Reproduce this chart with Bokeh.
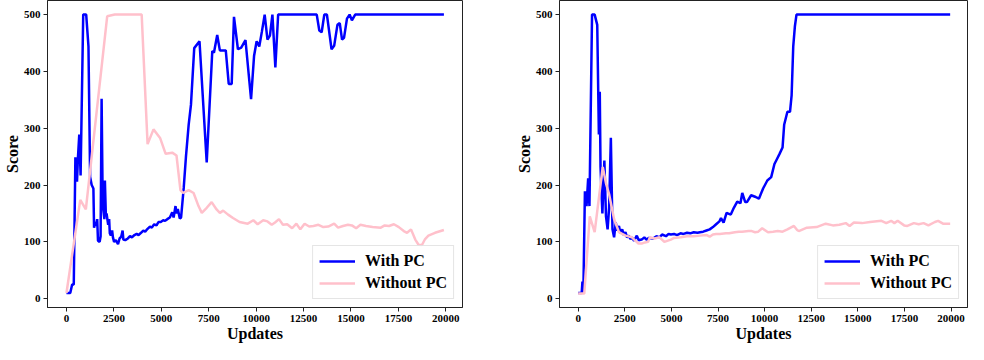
from bokeh.plotting import figure
from bokeh.layouts import row
from bokeh.models import Range1d, FixedTicker, Legend, LegendItem
from bokeh.embed import file_html
from bokeh.resources import INLINE

# ---------------- data ----------------
x_ticks = [0, 2500, 5000, 7500, 10000, 12500, 15000, 17500, 20000]
y_ticks = [0, 100, 200, 300, 400, 500]
series_labels = ["With PC", "Without PC"]

left_with_x = [0, 200, 300, 385, 470, 555, 606, 675, 745, 883, 1040, 1160, 1247, 1330, 1420, 1455, 1506, 1560,
               1620, 1662, 1749, 1800, 1853, 1900, 1940, 2000, 2026, 2078, 2114, 2200, 2250, 2286, 2338, 2407,
               2450, 2511, 2600, 2719, 2800, 2857, 2893, 2960, 3000, 3100, 3238, 3350, 3450, 3584, 3700, 3800,
               3931, 4050, 4150, 4277, 4400, 4500, 4623, 4750, 4850, 4970, 5100, 5200, 5316, 5450, 5576, 5650,
               5749, 5800, 5870, 5974, 6043, 6182, 6300, 6442, 6563, 6736, 7014, 7394, 7688, 7775, 7948, 8087,
               8399, 8555, 8711, 8832, 9040, 9213, 9438, 9732, 9890, 10026, 10165, 10303, 10450, 10598, 10727,
               10858, 11013, 11160, 13195, 13330, 13455, 13594, 13732, 13975, 14113, 14286, 14408, 14529, 14633,
               14789, 14927, 15049, 15222, 19900]
left_with_y = [10, 10, 25, 25, 249, 206, 249, 289, 217, 500, 500, 444, 214, 200, 194, 125, 135, 128,
               140, 102, 100, 110, 352, 200, 157, 140, 208, 145, 150, 130, 140, 115, 111, 120,
               108, 100, 103, 96, 106, 108, 110, 120, 104, 103, 106, 110, 108, 112, 114, 112,
               116, 120, 118, 123, 127, 125, 131, 129, 135, 135, 138, 137, 140, 143, 152, 143,
               163, 150, 158, 141, 143, 195, 250, 306, 341, 441, 453, 240, 436, 433, 464, 437,
               437, 378, 378, 496, 439, 442, 455, 351, 427, 453, 444, 470, 500, 456, 463,
               500, 407, 500, 500, 472, 469, 500, 500, 439, 445, 482, 485, 456, 459,
               493, 500, 490, 500, 500]

left_without_x = [0, 727, 1022, 2147, 2546, 3965, 4277, 4589, 4935, 5229, 5576, 5801, 6009, 6147, 6442, 6702,
                  6962, 7135, 7395, 7654, 7914, 8087, 8260, 8520, 8780, 9126, 9558, 9853, 10078, 10373, 10597,
                  10823, 10996, 11204, 11412, 11637, 11897, 12122, 12330, 12555, 12797, 13022, 13282, 13542,
                  13801, 14113, 14321, 14580, 14840, 15049, 15274, 15498, 15793, 16139, 16572, 16779, 17005,
                  17264, 17524, 17784, 17957, 18165, 18390, 18563, 18736, 18909, 19082, 19429, 19900]
left_without_y = [10, 174, 157, 497, 500, 500, 272, 298, 283, 255, 257, 252, 191, 186, 191, 186,
                  163, 151, 160, 170, 157, 151, 155, 148, 142, 135, 132, 138, 131, 138, 136,
                  130, 134, 140, 130, 131, 124, 132, 122, 132, 127, 128, 130, 126,
                  127, 132, 125, 128, 130, 129, 124, 130, 128, 126, 125, 129, 128,
                  131, 126, 119, 116, 122, 104, 95, 94, 105, 111, 116, 121]

right_with_x = [0, 190, 230, 280, 363, 450, 537, 606, 745, 885, 1024, 1111, 1160, 1200, 1300, 1406, 1493,
                1580, 1660, 1754, 1841, 1928, 2015, 2100, 2189, 2270, 2363, 2450, 2537, 2620, 2711, 2800,
                2885, 3000, 3146, 3250, 3407, 3550, 3668, 3800, 4015, 4200, 4363, 4500, 4711, 4850, 4972,
                5143, 5300, 5490, 5650, 5838, 6012, 6200, 6400, 6533, 6707, 6880, 7055, 7228, 7400, 7575,
                7660, 7800, 7959, 8185, 8350, 8532, 8705, 8800, 8960, 9052, 9277, 9521, 9694, 9919, 10145,
                10353, 10527, 10650, 10788, 10961, 11048, 11222, 11361, 11448, 11535, 11622, 11709, 19950]
right_with_y = [10, 10, 30, 12, 189, 163, 212, 163, 500, 500, 482, 289, 364, 232, 150, 243, 145,
                122, 160, 283, 122, 108, 134, 120, 128, 115, 122, 112, 117, 108, 111, 105,
                108, 102, 111, 103, 104, 108, 104, 107, 106, 110, 108, 113, 110, 114, 113,
                114, 112, 115, 114, 116, 115, 117, 116, 117, 118, 120, 122, 126, 131, 136,
                142, 134, 151, 148, 160, 171, 168, 186, 170, 170, 182, 179, 176, 194, 208,
                214, 237, 245, 254, 266, 306, 329, 329, 358, 444, 479, 500, 500]

right_without_x = [0, 328, 624, 885, 1319, 1493, 1667, 1928, 2189, 2362, 2537, 2883, 3233, 3405, 3581, 3753,
                   3842, 4100, 4363, 4622, 4972, 5143, 5500, 5838, 6200, 6533, 6900, 7055, 7228, 7400, 7600,
                   7923, 8098, 8400, 8618, 8792, 9140, 9312, 9487, 9660, 9869, 10182, 10450, 10703, 10961,
                   11224, 11572, 11744, 11833, 12267, 12789, 13276, 13658, 14005, 14353, 14561, 14787, 15222,
                   15656, 16264, 16524, 16785, 16959, 17133, 17481, 17655, 18002, 18263, 18524, 18784, 19132,
                   19305, 19566, 19950]
right_without_y = [9, 9, 145, 117, 232, 203, 183, 140, 117, 114, 111, 108, 97, 97, 99, 100,
                   108, 106, 108, 100, 104, 107, 108, 110, 110, 111, 112, 109, 113, 114, 114,
                   115, 115, 117, 118, 118, 119, 119, 117, 118, 124, 117, 118, 119, 118,
                   122, 128, 121, 119, 125, 126, 132, 129, 130, 133, 128, 134, 133,
                   135, 137, 133, 137, 133, 137, 129, 128, 133, 131, 133, 129, 135,
                   137, 132, 132]

# ---------------- styling ----------------
FONT = "Liberation Serif"
BLUE = "#0000ff"
PINK = "#ffc0cb"


def make_panel(wx, wy, nx, ny, width, border_left, border_right):
    p = figure(width=width, height=344, output_backend="svg", toolbar_location=None,
               x_range=Range1d(-1000, 20880), y_range=Range1d(-15.5, 524.8),
               min_border_left=border_left, min_border_right=border_right,
               min_border_top=0, min_border_bottom=20)
    p.background_fill_color = "white"
    p.border_fill_color = "white"
    p.outline_line_color = "#222222"
    p.outline_line_width = 1
    p.xgrid.grid_line_color = None
    p.ygrid.grid_line_color = None

    r1 = p.line(wx, wy, line_color=BLUE, line_width=2.5)
    r2 = p.line(nx, ny, line_color=PINK, line_width=2.5)

    p.xaxis.ticker = FixedTicker(ticks=x_ticks)
    p.yaxis.ticker = FixedTicker(ticks=y_ticks)
    for ax in (p.xaxis[0], p.yaxis[0]):
        ax.minor_tick_line_color = None
        ax.major_tick_in = 0
        ax.major_tick_out = 4
        ax.major_tick_line_color = "#222222"
        ax.axis_line_color = "#222222"
        ax.major_label_text_font = FONT
        ax.major_label_text_font_style = "bold"
        ax.major_label_text_font_size = "11px"
        ax.major_label_text_color = "black"
        ax.major_label_text_line_height = 0.9
        ax.axis_label_text_font = FONT
        ax.axis_label_text_font_style = "bold"
        ax.axis_label_text_font_size = "16px"
        ax.axis_label_text_color = "black"
        ax.axis_label_text_line_height = 0.9
        ax.major_label_standoff = 3
        ax.axis_label_standoff = 0
    p.xaxis.axis_label = "Updates"
    p.yaxis.axis_label = "Score"

    legend = Legend(items=[LegendItem(label=series_labels[0], renderers=[r1]),
                           LegendItem(label=series_labels[1], renderers=[r2])],
                    location="bottom_right")
    legend.margin = 8
    legend.padding = 6
    legend.spacing = 4
    legend.glyph_width = 36
    legend.glyph_height = 18
    legend.label_height = 18
    legend.label_standoff = 10
    legend.label_text_font = FONT
    legend.label_text_font_style = "bold"
    legend.label_text_font_size = "16px"
    legend.label_text_color = "black"
    legend.border_line_color = "#cccccc"
    legend.border_line_width = 1
    legend.background_fill_color = "white"
    legend.background_fill_alpha = 0.8
    p.add_layout(legend, "center")
    return p


p1 = make_panel(left_with_x, left_with_y, left_without_x, left_without_y, 512, 44, 50)
p2 = make_panel(right_with_x, right_with_y, right_without_x, right_without_y, 456, 46, 1)

layout = row(p1, p2)
open("out.html", "w").write(file_html(layout, INLINE))
